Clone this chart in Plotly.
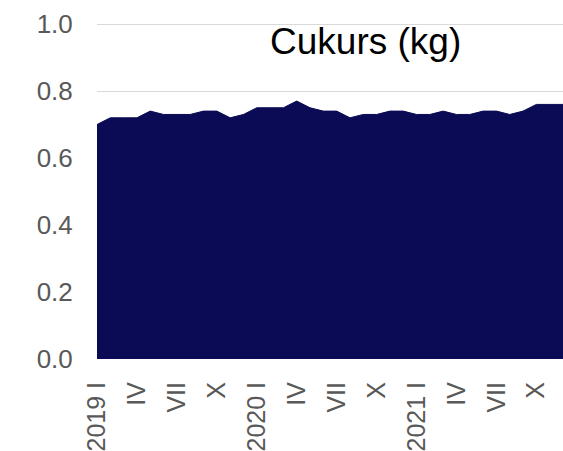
import plotly.graph_objects as go

months = list(range(36))
values = [0.70, 0.72, 0.72, 0.72, 0.74, 0.73, 0.73, 0.73, 0.74, 0.74, 0.72, 0.73,
          0.75, 0.75, 0.75, 0.77, 0.75, 0.74, 0.74, 0.72, 0.73, 0.73, 0.74, 0.74,
          0.73, 0.73, 0.74, 0.73, 0.73, 0.74, 0.74, 0.73, 0.74, 0.76, 0.76, 0.76]
tick_positions = [0, 3, 6, 9, 12, 15, 18, 21, 24, 27, 30, 33]
tick_labels = ["2019 I", "IV", "VII", "X", "2020 I", "IV", "VII", "X",
               "2021 I", "IV", "VII", "X"]
y_ticks = [0.0, 0.2, 0.4, 0.6, 0.8, 1.0]
title_text = "Cukurs (kg)"

fig = go.Figure()
fig.add_trace(go.Scatter(
    x=months, y=values, mode="lines", fill="tozeroy",
    line=dict(color="#0A0A55", width=1), fillcolor="#0A0A55",
    hoverinfo="skip", showlegend=False,
))

font_family = "Liberation Sans, Arial, sans-serif"
fig.update_layout(
    width=563, height=451,
    margin=dict(l=97, r=0, t=21, b=92),
    paper_bgcolor="white", plot_bgcolor="white",
    font=dict(family=font_family, color="#595959", size=26),
    xaxis=dict(
        range=[0, 35], tickmode="array", tickvals=tick_positions, ticktext=tick_labels,
        tickangle=-90, showgrid=False, zeroline=False, showline=False, automargin=False,
        ticks="outside", ticklen=12, tickcolor="rgba(0,0,0,0)",
        tickfont=dict(size=25, color="#595959"),
    ),
    yaxis=dict(
        range=[0, 1.009], tickmode="array", tickvals=y_ticks,
        ticktext=[f"{v:.1f}" for v in y_ticks], automargin=False,
        showgrid=True, gridcolor="#D9D9D9", gridwidth=1.3, zeroline=False, showline=False,
        ticks="outside", ticklen=18, tickcolor="rgba(0,0,0,0)",
        tickfont=dict(size=26, color="#595959"),
    ),
    annotations=[dict(
        text=title_text, xref="paper", yref="paper", x=0.577, y=0.94,
        xanchor="center", yanchor="middle", showarrow=False,
        font=dict(size=37, color="#000000", family=font_family),
    )],
)

fig.write_html(
    "out.html",
    config={"displayModeBar": False},
    post_script="document.body.style.margin='0';document.body.style.overflow='hidden';",
)
